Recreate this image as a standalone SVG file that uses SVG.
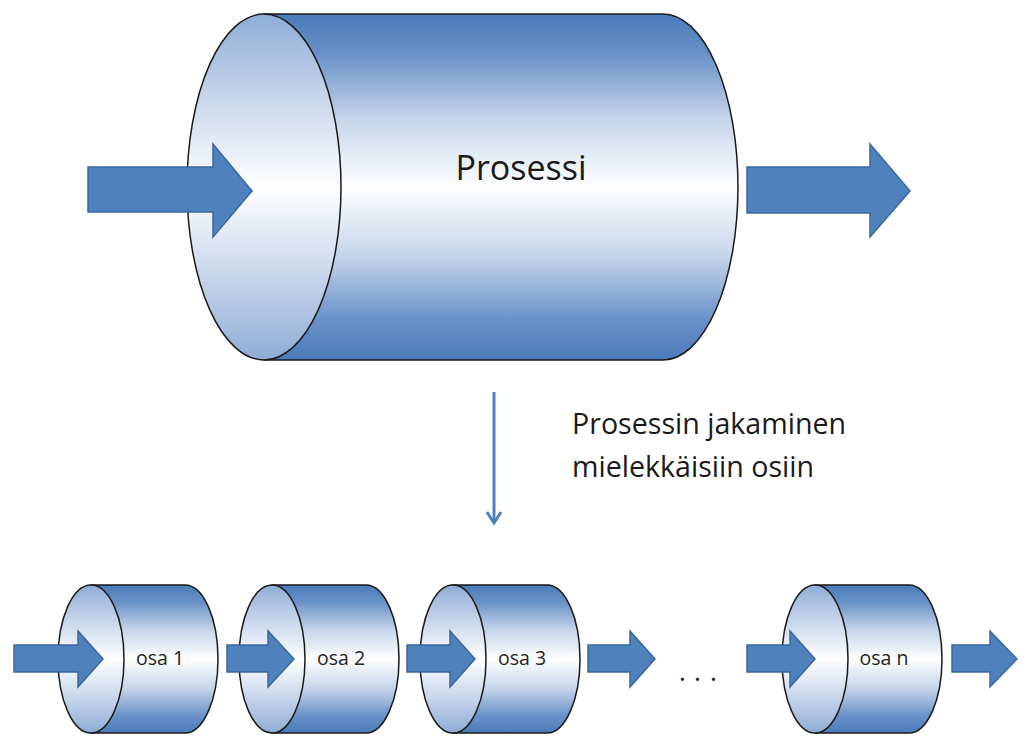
<svg xmlns="http://www.w3.org/2000/svg" width="1024" height="747" viewBox="0 0 1024 747">
<defs>
<linearGradient id="gBody" x1="0" y1="0" x2="0" y2="1">
<stop offset="0" stop-color="#4a7bba"/>
<stop offset="0.12" stop-color="#6a92c8"/>
<stop offset="0.3" stop-color="#c5d4ea"/>
<stop offset="0.5" stop-color="#ffffff"/>
<stop offset="0.7" stop-color="#c5d4ea"/>
<stop offset="0.88" stop-color="#6a92c8"/>
<stop offset="1" stop-color="#4a7bba"/>
</linearGradient>
<linearGradient id="gFace" x1="0" y1="0" x2="0" y2="1">
<stop offset="0" stop-color="#8eacd5"/>
<stop offset="0.25" stop-color="#c9d7ec"/>
<stop offset="0.5" stop-color="#ffffff"/>
<stop offset="0.75" stop-color="#c9d7ec"/>
<stop offset="1" stop-color="#8eacd5"/>
</linearGradient>
</defs>
<style>
.body{fill:url(#gBody);stroke:#1a1a1a;stroke-width:1.5}
.face{fill:url(#gFace);stroke:#1a1a1a;stroke-width:1.5}
.arr{fill:#4f81bd;stroke:#3b679f;stroke-width:1.5;stroke-linejoin:miter}
.big{font-family:"Open Sans","Liberation Sans",sans-serif;font-size:34px;fill:#1a1a1a}
.lbl{font-family:"Open Sans","Liberation Sans",sans-serif;font-size:28.6px;fill:#1a1a1a}
.small{font-family:"Open Sans","Liberation Sans",sans-serif;font-size:19.5px;fill:#262626;text-anchor:middle}
.dots{font-family:"Open Sans","Liberation Sans",sans-serif;font-size:26px;fill:#1a1a1a}
</style>
<rect width="1024" height="747" fill="#ffffff"/>

<g id="prosessi">
<path class="body" d="M264,14 H663 A75,173 0 0 1 663,360 H264 Z"/>
<ellipse class="face" cx="264" cy="187" rx="77" ry="173"/>
<text class="big" x="521" y="180" text-anchor="middle">Prosessi</text>
</g>

<g id="osa1">
<path class="body" d="M91,585 H185 A33,74 0 0 1 185,733 H91 Z"/>
<ellipse class="face" cx="91" cy="659" rx="33" ry="74"/>
<text class="small" x="160" y="665">osa 1</text>
</g>
<g id="osa2">
<path class="body" d="M272,585 H366 A33,74 0 0 1 366,733 H272 Z"/>
<ellipse class="face" cx="272" cy="659" rx="33" ry="74"/>
<text class="small" x="341" y="665">osa 2</text>
</g>
<g id="osa3">
<path class="body" d="M453,585 H547 A33,74 0 0 1 547,733 H453 Z"/>
<ellipse class="face" cx="453" cy="659" rx="33" ry="74"/>
<text class="small" x="522" y="665">osa 3</text>
</g>
<g id="osan">
<path class="body" d="M815,585 H909 A33,74 0 0 1 909,733 H815 Z"/>
<ellipse class="face" cx="815" cy="659" rx="33" ry="74"/>
<text class="small" x="884" y="665">osa n</text>
</g>

<g id="dots">
<text class="dots" x="679 694 710" y="681">...</text>
</g>

<g id="label">
<text class="lbl" x="572" y="434">Prosessin jakaminen</text>
<text class="lbl" x="572" y="477">mielekkäisiin osiin</text>
</g>

<g id="connectors">
<polygon class="arr" points="88,167 213,167 213,144 252,191 213,237 213,212 88,212"/>
<polygon class="arr" points="747,167 870,167 870,144 910,191 870,237 870,213 747,213"/>
<polygon class="arr" points="14,645 78,645 78,631 103,659 78,687 78,672 14,672"/>
<polygon class="arr" points="227,645 268,645 268,631 294,659 268,687 268,672 227,672"/>
<polygon class="arr" points="407,645 450,645 450,631 475,659 450,687 450,672 407,672"/>
<polygon class="arr" points="588,645 630,645 630,631 655,659 630,687 630,672 588,672"/>
<polygon class="arr" points="747,645 790,645 790,631 815,659 790,687 790,672 747,672"/>
<polygon class="arr" points="952,645 990,645 990,631 1017,659 990,687 990,672 952,672"/>
<line x1="494" y1="392" x2="494" y2="521" stroke="#4f81bd" stroke-width="3"/>
<polyline points="487,512 494,523 501,512" fill="none" stroke="#4f81bd" stroke-width="3" stroke-linejoin="miter"/>
</g>
</svg>
